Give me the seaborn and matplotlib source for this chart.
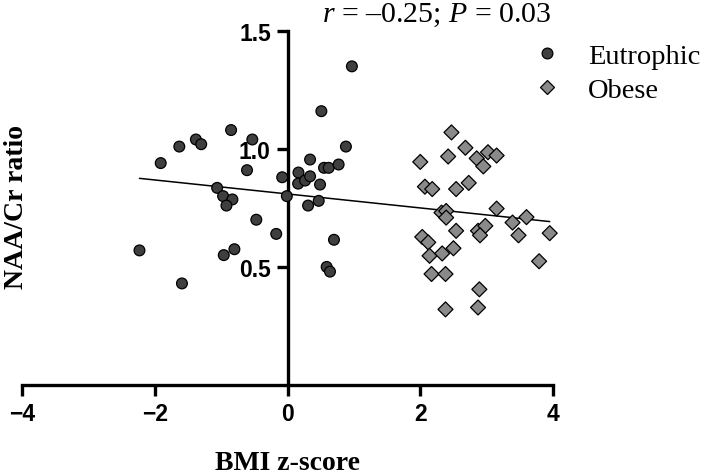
import numpy as np
import pandas as pd
import matplotlib
matplotlib.use("Agg")
import matplotlib.pyplot as plt
import seaborn as sns

eu_x = [0.97, 0.51, -0.85, -0.53, -1.38, -1.30, -1.63, 0.88, -1.91, 0.34, -0.61,
        0.55, 0.62, 0.77, 0.165, -0.08, 0.16, 0.265, 0.34, 0.49, -1.06, -0.97,
        -0.83, -0.92, -0.01, 0.31, 0.47, -0.47, -0.17, 0.70, -2.23, -0.96, -0.80,
        0.59, 0.64, -1.59]
eu_y = [1.35, 1.16, 1.08, 1.04, 1.04, 1.02, 1.01, 1.01, 0.94, 0.955, 0.91,
        0.92, 0.92, 0.934, 0.90, 0.88, 0.853, 0.866, 0.884, 0.849, 0.835, 0.80,
        0.786, 0.76, 0.80, 0.76, 0.78, 0.70, 0.64, 0.615, 0.57, 0.55, 0.575,
        0.50, 0.48, 0.43]
ob_x = [2.47, 2.68, 2.42, 2.00, 2.85, 3.02, 3.15, 2.95, 2.07, 2.18, 2.54, 2.73,
        3.15, 2.32, 2.39, 2.39, 3.39, 3.60, 3.95, 3.48, 2.54, 2.87, 2.98, 2.90,
        2.03, 2.12, 2.14, 2.33, 2.50, 3.79, 2.17, 2.38, 2.89, 2.38, 2.87]
ob_y = [1.07, 1.005, 0.968, 0.945, 0.96, 0.986, 0.972, 0.926, 0.84, 0.83, 0.83,
        0.856, 0.747, 0.73, 0.737, 0.709, 0.688, 0.711, 0.643, 0.634, 0.653,
        0.653, 0.674, 0.634, 0.627, 0.604, 0.547, 0.557, 0.579, 0.524, 0.47,
        0.47, 0.405, 0.32, 0.328]
groups = ["Eutrophic", "Obese"]
x_ticks = [-4, -2, 0, 2, 4]
x_ticklabels = ["\u22124", "\u22122", "0", "2", "4"]
y_ticks = [0.5, 1.0, 1.5]
y_ticklabels = ["0.5", "1.0", "1.5"]
annot = "$\\it{r}$ = \u20130.25; $\\it{P}$ = 0.03"

df = pd.DataFrame({
    "bmi": eu_x + ob_x,
    "naa": eu_y + ob_y,
    "group": [groups[0]] * len(eu_x) + [groups[1]] * len(ob_x),
})

sns.set_style("white")
plt.rcParams["mathtext.fontset"] = "custom"
plt.rcParams["mathtext.it"] = "Liberation Serif:italic"
plt.rcParams["mathtext.rm"] = "Liberation Serif"
plt.rcParams["ytick.left"] = True
plt.rcParams["xtick.bottom"] = True

fig = plt.figure(figsize=(7.02, 4.77), dpi=100)
ax = fig.add_axes([0.0313, 0.191, 0.7565, 0.742])

sns.regplot(data=df, x="bmi", y="naa", scatter=False, ci=None, truncate=True,
            line_kws=dict(color="black", lw=1.1), ax=ax)
sns.scatterplot(data=df, x="bmi", y="naa", hue="group", style="group",
                palette={"Eutrophic": "#3f3f3f", "Obese": "#8a8a8a"},
                markers={"Eutrophic": "o", "Obese": "D"},
                size="group", sizes={"Eutrophic": 60, "Obese": 58},
                edgecolor="black", linewidth=0.9, ax=ax, legend=True, zorder=3,
                clip_on=False)

ax.set_xlim(-4, 4)
ax.set_ylim(0, 1.5)
ax.spines["left"].set_position(("data", 0))
ax.spines["top"].set_visible(False)
ax.spines["right"].set_visible(False)
for s in ["left", "bottom"]:
    ax.spines[s].set_linewidth(2.4)
    ax.spines[s].set_color("black")
ax.yaxis.set_ticks_position("left")
ax.xaxis.set_ticks_position("bottom")
ax.set_xticks(x_ticks)
ax.set_xticklabels(x_ticklabels)
ax.set_yticks(y_ticks)
ax.set_yticklabels(y_ticklabels)
ax.tick_params(axis="both", direction="out", length=8, width=2.4, color="black",
               labelsize=16.5, pad=4, labelcolor="black", left=True, bottom=True)
for lab in ax.get_xticklabels() + ax.get_yticklabels():
    lab.set_fontfamily("Liberation Sans")
    lab.set_fontweight("bold")
ax.set_xlabel("")
ax.set_ylabel("")

fig.text(0.41, 0.028, "BMI z-score", ha="center", va="center",
         family="Liberation Serif", weight="bold", fontsize=20, color="black")
fig.text(0.005, 0.565, "NAA/Cr ratio", ha="left", va="center", rotation=90,
         family="Liberation Serif", weight="bold", fontsize=20, color="black")
fig.text(0.785, 0.968, annot, ha="right", va="center",
         family="Liberation Serif", fontsize=21.5, color="black")

handles, labels = ax.get_legend_handles_labels()
leg = ax.legend(handles=handles, labels=labels, loc="upper left",
                bbox_to_anchor=(0.759, 0.908), bbox_transform=fig.transFigure,
                frameon=False, prop=dict(family="Liberation Serif", size=20.5),
                handletextpad=0.94, labelspacing=0.29,
                handlelength=1.0, borderaxespad=0, borderpad=0)
for t in leg.get_texts():
    t.set_color("black")

fig.savefig("out.png", dpi=100)
